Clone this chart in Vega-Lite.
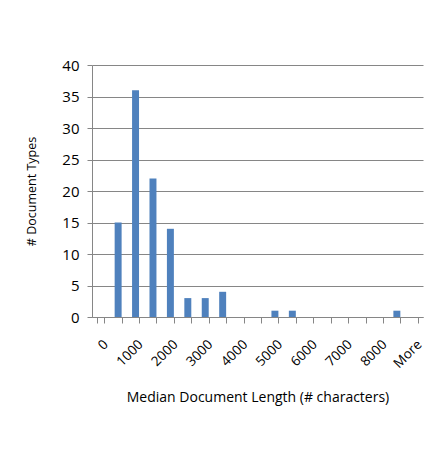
{
  "$schema": "https://vega.github.io/schema/vega-lite/v6.json",
  "width": 331,
  "height": 252,
  "autosize": {"type": "none"},
  "padding": {"left": 92, "top": 65, "right": 23, "bottom": 139},
  "background": "white",
  "config": {
    "view": {"stroke": null},
    "font": "Open Sans"
  },
  "data": {
    "values": [
      {"bin": "0", "count": 0},
      {"bin": "500", "count": 15},
      {"bin": "1000", "count": 36},
      {"bin": "1500", "count": 22},
      {"bin": "2000", "count": 14},
      {"bin": "2500", "count": 3},
      {"bin": "3000", "count": 3},
      {"bin": "3500", "count": 4},
      {"bin": "4000", "count": 0},
      {"bin": "4500", "count": 0},
      {"bin": "5000", "count": 1},
      {"bin": "5500", "count": 1},
      {"bin": "6000", "count": 0},
      {"bin": "6500", "count": 0},
      {"bin": "7000", "count": 0},
      {"bin": "7500", "count": 0},
      {"bin": "8000", "count": 0},
      {"bin": "8500", "count": 1},
      {"bin": "More", "count": 0}
    ]
  },
  "mark": {"type": "bar", "color": "#4F81BD"},
  "encoding": {
    "x": {
      "field": "bin",
      "type": "nominal",
      "sort": null,
      "scale": {"paddingInner": 0.6, "paddingOuter": 0.3},
      "axis": {
        "title": "Median Document Length (# characters)",
        "titleFont": "Open Sans",
        "titleFontSize": 14,
        "titleFontWeight": "normal",
        "titleColor": "#000000",
        "titlePadding": 20,
        "labelAngle": -45,
        "labelFontSize": 13.5,
        "labelColor": "#000000",
        "labelPadding": 14,
        "labelExpr": "indexof(['0','1000','2000','3000','4000','5000','6000','7000','8000','More'], datum.value) >= 0 ? datum.value : ''",
        "tickBand": "extent",
        "tickSize": 6,
        "tickColor": "#868686",
        "domainColor": "#868686",
        "grid": false
      }
    },
    "y": {
      "field": "count",
      "type": "quantitative",
      "scale": {"domain": [0, 40], "nice": false},
      "axis": {
        "title": "# Document Types",
        "titleFont": "Open Sans",
        "titleFontSize": 12.5,
        "titleFontWeight": "normal",
        "titleColor": "#000000",
        "titlePadding": 23,
        "values": [0, 5, 10, 15, 20, 25, 30, 35, 40],
        "labelFontSize": 15,
        "labelColor": "#000000",
        "labelPadding": 8,
        "tickSize": 5,
        "tickColor": "#868686",
        "domainColor": "#868686",
        "grid": true,
        "gridColor": "#868686",
        "gridWidth": 1
      }
    }
  }
}
